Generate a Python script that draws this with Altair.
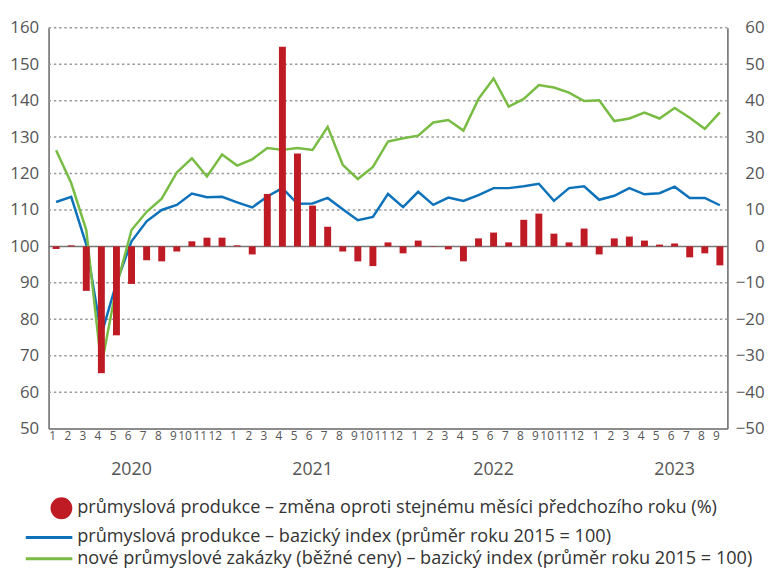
import altair as alt
import pandas as pd

# ---- data ----
years = [2020, 2021, 2022, 2023]
month_numbers = list(range(1, 13)) * 3 + list(range(1, 10))

prod_index = [112.2, 113.6, 100.5, 75.8, 90.0, 101.4, 106.9, 110.0, 111.4, 114.5, 113.5, 113.6,
              112.1, 110.7, 113.7, 116.0, 111.7, 111.8, 113.3, 110.2, 107.2, 108.1, 114.4, 110.8,
              115.0, 111.4, 113.4, 112.5, 114.1, 116.0, 116.0, 116.5, 117.2, 112.5, 116.0, 116.5,
              112.8, 113.9, 116.0, 114.3, 114.6, 116.4, 113.3, 113.3, 111.3]

orders_index = [126.4, 117.4, 104.5, 67.2, 89.0, 104.5, 109.5, 113.1, 120.3, 124.2, 119.2, 125.2,
                122.2, 123.9, 127.0, 126.5, 127.0, 126.5, 132.8, 122.4, 118.5, 121.8, 128.8, 129.7,
                130.4, 134.0, 134.7, 131.8, 140.5, 146.1, 138.4, 140.5, 144.3, 143.6, 142.2, 139.9,
                140.1, 134.4, 135.1, 136.7, 135.1, 138.0, 135.3, 132.3, 136.8]

yoy_change = [-0.7, 0.3, -12.2, -34.8, -24.4, -10.3, -3.8, -4.1, -1.4, 1.4, 2.4, 2.4,
              0.3, -2.2, 14.4, 54.8, 25.5, 11.2, 5.4, -1.4, -4.1, -5.4, 1.1, -1.9,
              1.6, 0.1, -0.8, -4.1, 2.2, 3.8, 1.1, 7.3, 9.0, 3.5, 1.1, 4.9,
              -2.2, 2.2, 2.7, 1.6, 0.5, 0.8, -3.0, -1.9, -5.2]

left_ticks = list(range(50, 161, 10))
right_ticks = list(range(-50, 61, 10))

series_names = [
    "průmyslová produkce – změna oproti stejnému měsíci předchozího roku (%)",
    "průmyslová produkce – bazický index (průměr roku 2015 = 100)",
    "nové průmyslové zakázky (běžné ceny) – bazický index (průměr roku 2015 = 100)",
]

RED = "#BE1B24"
BLUE = "#0E72BA"
GREEN = "#78BC43"
FONT = "Open Sans"
GREY = "#555555"

n = len(month_numbers)
df = pd.DataFrame({
    "idx": list(range(n)),
    "month": month_numbers,
    "prod": prod_index,
    "orders": orders_index,
    "yoy": yoy_change,
})
year_df = pd.DataFrame({"year": [str(y) for y in years], "idx": [5, 17, 29, 41]})
legend_df = pd.DataFrame({"series": series_names})
grid_df = pd.DataFrame({"g": [t for t in left_ticks if t not in (50, 100)]})
zero_df = pd.DataFrame({"z": [100]})

x_enc = alt.X(
    "idx:O",
    scale=alt.Scale(paddingInner=0, paddingOuter=0),
    axis=alt.Axis(
        title=None, labelExpr="(datum.value % 12) + 1", labelAngle=0, ticks=False,
        labelFontSize=12, labelFont=FONT, labelColor=GREY, labelPadding=7,
        domainColor="#666666", domainWidth=1.5, grid=False, labelOverlap=False,
    ),
)

base = alt.Chart(df)

bars = base.mark_bar(size=7, color=RED).encode(
    x=x_enc,
    y=alt.Y(
        "yoy:Q",
        scale=alt.Scale(domain=[-50, 60], nice=False),
        axis=alt.Axis(
            orient="right", title=None, values=right_ticks, grid=False,
            ticks=False, labelAlign="right", labelPadding=37, labelFontSize=17,
            labelFont=FONT, labelColor=GREY, domainColor="#666666", domainWidth=1.5,
            labelOverlap=False,
        ),
    ),
)

left_y_scale = alt.Scale(domain=[50, 160], nice=False)
left_axis = alt.Axis(
    orient="left", title=None, values=left_ticks, grid=False, ticks=False,
    labelFontSize=17, labelFont=FONT, labelColor=GREY, labelPadding=10,
    domainColor="#666666", domainWidth=1.5, labelOverlap=False,
)

# dotted grid drawn as rules spanning the plot width
grid_rules = alt.Chart(grid_df).mark_rule(
    color="#9A9A9A", strokeWidth=1.5, strokeDash=[2.5, 2.8]
).encode(
    x=alt.value(0),
    x2=alt.value(686),
    y=alt.Y("g:Q", scale=left_y_scale, axis=left_axis),
)
zero_rule = alt.Chart(zero_df).mark_rule(color="#777777", strokeWidth=1.5).encode(
    y=alt.Y("z:Q", scale=left_y_scale, axis=left_axis)
)
prod_line = base.mark_line(color=BLUE, strokeWidth=2.5).encode(
    x=alt.X("idx:O"),
    y=alt.Y("prod:Q", scale=left_y_scale, axis=left_axis),
)
orders_line = base.mark_line(color=GREEN, strokeWidth=2.5).encode(
    x=alt.X("idx:O"),
    y=alt.Y("orders:Q", scale=left_y_scale, axis=left_axis),
)

left_layer = alt.layer(grid_rules, zero_rule, prod_line, orders_line)

year_text = alt.Chart(year_df).mark_text(
    fontSize=18, font=FONT, color=GREY, baseline="middle"
).encode(
    x=alt.X("idx:O"),
    y=alt.value(447),
    text="year:N",
)

circle_path = "M 2.75,0 A 1.19,1.19 0 1,1 0.37,0 A 1.19,1.19 0 1,1 2.75,0 Z"
line_path = "M -2.94,0 L 2.94,0"

legend_layer = alt.Chart(legend_df).transform_filter("false").mark_point(
    filled=True, opacity=1, strokeWidth=3
).encode(
    fill=alt.Fill(
        "series:N",
        scale=alt.Scale(domain=series_names, range=[RED, BLUE, GREEN]),
        legend=alt.Legend(
            title=None, orient="none", legendX=-9, legendY=476, direction="vertical",
            labelFontSize=18.3, labelFont=FONT, labelColor="#333333", labelOffset=19,
            symbolSize=256, symbolStrokeWidth=3, rowPadding=2.5, labelLimit=0,
            symbolOpacity=1,
        ),
    ),
    stroke=alt.Stroke(
        "series:N",
        scale=alt.Scale(domain=series_names, range=[RED, BLUE, GREEN]),
    ),
    shape=alt.Shape(
        "series:N",
        scale=alt.Scale(domain=series_names, range=[circle_path, line_path, line_path]),
    ),
)

chart = alt.layer(left_layer, bars, year_text, legend_layer).resolve_scale(
    y="independent"
).properties(
    width=686,
    height=405,
    autosize=alt.AutoSizeParams(type="none"),
    padding={"left": 41, "top": 17, "right": 40, "bottom": 150},
).configure_view(strokeOpacity=0)

chart.save("out.html", embed_options={"renderer": "svg", "actions": False})
